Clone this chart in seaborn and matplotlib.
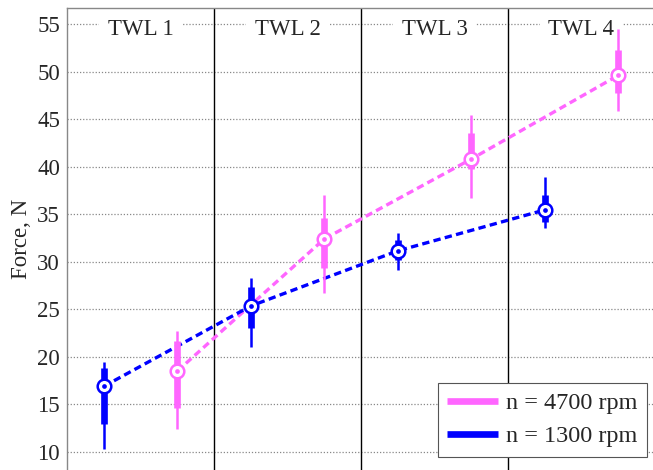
import matplotlib
matplotlib.use("Agg")
import matplotlib.pyplot as plt
import seaborn as sns
import numpy as np
import pandas as pd
from matplotlib.lines import Line2D

categories = ["TWL 1", "TWL 2", "TWL 3", "TWL 4"]
series_names = ["n = 4700 rpm", "n = 1300 rpm"]

# n = 4700 rpm
hi_median = [18.5, 32.4, 40.8, 49.6]
hi_q1 = [14.6, 29.3, 39.8, 47.7]
hi_q3 = [21.7, 34.6, 43.5, 52.3]
hi_wlo = [12.45, 26.7, 36.7, 45.9]
hi_whi = [22.75, 37.0, 45.4, 54.5]

# n = 1300 rpm
lo_median = [16.9, 25.35, 31.15, 35.45]
lo_q1 = [12.95, 23.0, 30.2, 34.2]
lo_q3 = [18.85, 27.4, 32.3, 37.0]
lo_wlo = [10.3, 21.0, 29.1, 33.5]
lo_whi = [19.5, 28.3, 33.0, 38.95]

yticks = [10, 15, 20, 25, 30, 35, 40, 45, 50, 55]

sns.set_style("white")
plt.rcParams["font.family"] = ["Liberation Serif", "DejaVu Serif"]

W, H = 653, 470
fig = plt.figure(figsize=(W / 100, H / 100), dpi=100)
ax = fig.add_axes([67 / W, 0.0, 1 - 67 / W, 1 - 8 / H])

PINK = "#FF66FF"
BLUE = "#0000FF"
colors = [PINK, BLUE]
offsets = [0.25, -0.25]

series = [
    (hi_median, hi_q1, hi_q3, hi_wlo, hi_whi),
    (lo_median, lo_q1, lo_q3, lo_wlo, lo_whi),
]

rows = []
for name, off, (med, q1, q3, wlo, whi) in zip(series_names, offsets, series):
    for i, c in enumerate(categories):
        rows.append(dict(series=name, cat=c, x=i + off, median=med[i],
                         q1=q1[i], q3=q3[i], wlo=wlo[i], whi=whi[i]))
df = pd.DataFrame(rows)

# grid
for yv in yticks:
    ax.axhline(yv, color="#888888", lw=0.9, ls=(0, (1, 1.5)), zorder=0)

# separators
for xv in [0.5, 1.5, 2.5]:
    ax.axvline(xv, color="black", lw=1.0, zorder=1)

for name, col in zip(series_names, colors):
    d = df[df.series == name]
    sns.lineplot(data=d, x="x", y="median", ax=ax, color=col, lw=2.4,
                 dashes=False, legend=False, zorder=3, sort=True,
                 linestyle=(0, (2.2, 1.3)))
    ax.vlines(d.x, d.wlo, d.whi, color=col, lw=1.8, zorder=4)
    ax.vlines(d.x, d.q1, d.q3, color=col, lw=4.8, zorder=4)
    ax.plot(d.x, d["median"], ls="none", marker="o", ms=9.8, mfc="white",
            mec=col, mew=1.8, zorder=5)
    ax.plot(d.x, d["median"], ls="none", marker="o", ms=3.4, mfc=col,
            mec=col, mew=0, zorder=6)

# category labels
for i, c in enumerate(categories):
    ax.text(i, 54.45, c, ha="center", va="center", fontsize=16.5,
            zorder=2, bbox=dict(facecolor="white", edgecolor="none",
                                pad=6.5))

ax.set_xlim(-0.5, -0.5 + (W - 67) / 147)
ax.set_ylim(10 - 18 / 9.51, 55 + 16 / 9.51)
ax.set_yticks(yticks)
ax.set_yticklabels([str(v) for v in yticks], fontsize=16.5)
ax.set_xticks([])
ax.tick_params(axis="y", direction="in", length=4, color="#777777", pad=5)
ax.set_ylabel("Force, N", fontsize=16.5, labelpad=4)
ax.set_xlabel("")

for s in ["right", "bottom"]:
    ax.spines[s].set_visible(False)
for s in ["left", "top"]:
    ax.spines[s].set_color("#888888")
    ax.spines[s].set_linewidth(1.0)

handles = [Line2D([0], [0], color=c, lw=4.8, solid_capstyle="butt")
           for c in colors]
leg = ax.legend(handles, series_names, loc="lower right",
                bbox_to_anchor=(647 / W, 13 / H), bbox_transform=fig.transFigure,
                fontsize=17.5, frameon=True, fancybox=False, framealpha=1,
                edgecolor="#555555", handlelength=2.1, handletextpad=0.3,
                borderpad=0.4, labelspacing=0.45, borderaxespad=0)
leg.get_frame().set_linewidth(0.8)
leg.set_zorder(10)

fig.savefig("out.png", dpi=100)
